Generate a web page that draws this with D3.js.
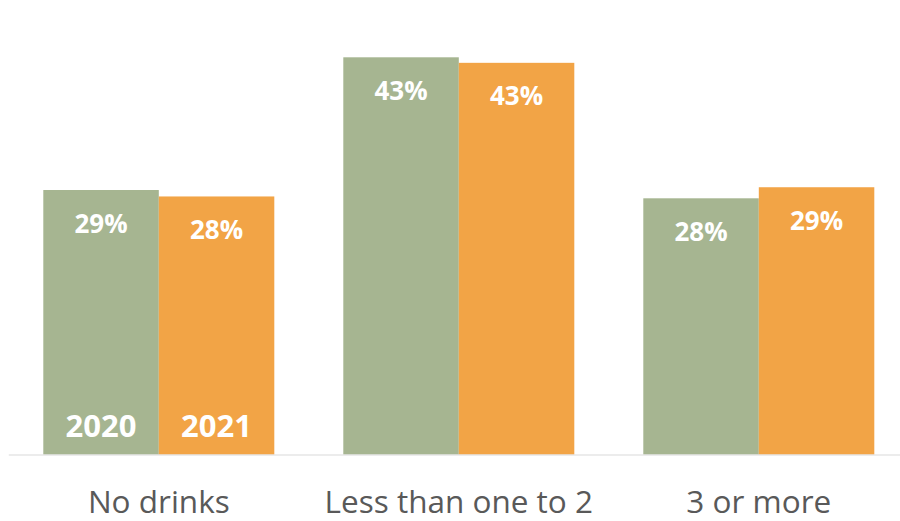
<!DOCTYPE html>
<html>
<head>
<meta charset="utf-8">
<title>Drinks per week</title>
<script src="https://cdnjs.cloudflare.com/ajax/libs/d3/7.8.5/d3.min.js"></script>
<style>
    body { margin: 0; background: #fff; }
    text { font-family: "Open Sans", sans-serif; }
</style>
</head>
<body>
<div id="chart"></div>
<script>
    // values (percent)
    var categories = ["No drinks", "Less than one to 2", "3 or more"];
    var years = ["2020", "2021"];
    var values2020 = [28.7, 43.1, 27.8];
    var values2021 = [28.0, 42.5, 29.0];
    var colors = ["#a6b591", "#f2a446"];

    var width = 900,
        height = 521,
        baseline = 454.5;

    var rows = categories.map(function(c, i) {
        return { cat: c, vals: [values2020[i], values2021[i]] };
    });

    var x0 = d3.scaleBand()
        .domain(categories)
        .range([8.8, 908.8])
        .paddingInner(0.23)
        .paddingOuter(0.115);

    var x1 = d3.scaleBand()
        .domain(years)
        .range([0, x0.bandwidth()]);

    var y = d3.scaleLinear()
        .domain([0, 43.1])
        .range([baseline, 57.3]);

    var svg = d3.select("#chart").append("svg")
        .attr("width", width)
        .attr("height", height);

    var group = svg.selectAll("g.cat")
        .data(rows)
        .enter().append("g")
        .attr("class", "cat")
        .attr("transform", function(d) { return "translate(" + x0(d.cat) + ",0)"; });

    var bars = group.selectAll("g.bar")
        .data(function(d) {
            return d.vals.map(function(v, j) { return { year: years[j], v: v, j: j }; });
        })
        .enter().append("g")
        .attr("class", "bar");

    bars.append("rect")
        .attr("x", function(d) { return x1(d.year); })
        .attr("y", function(d) { return y(d.v); })
        .attr("width", x1.bandwidth())
        .attr("height", function(d) { return baseline - y(d.v); })
        .attr("fill", function(d) { return colors[d.j]; });

    // value labels, inside end
    bars.append("text")
        .attr("x", function(d) { return x1(d.year) + x1.bandwidth() / 2; })
        .attr("y", function(d) { return y(d.v) + 42.5; })
        .attr("text-anchor", "middle")
        .attr("fill", "#fff")
        .attr("font-weight", "bold")
        .attr("font-size", 26)
        .text(function(d) { return Math.round(d.v) + "%"; });

    // year labels inside the first group act as the legend
    svg.selectAll("text.year")
        .data(years)
        .enter().append("text")
        .attr("class", "year")
        .attr("x", function(d) { return x0(categories[0]) + x1(d) + x1.bandwidth() / 2; })
        .attr("y", 437)
        .attr("text-anchor", "middle")
        .attr("fill", "#fff")
        .attr("font-weight", "bold")
        .attr("font-size", 31)
        .text(function(d) { return d; });

    // axis
    var axis = svg.append("g")
        .attr("transform", "translate(0," + baseline + ")")
        .call(d3.axisBottom(x0).tickSize(0).tickPadding(0));

    axis.select(".domain")
        .attr("d", "M8.8,0.5H900")
        .attr("stroke", "#d9d9d9")
        .attr("stroke-width", 1.2);

    axis.selectAll(".tick text")
        .attr("y", 58.5)
        .attr("dy", null)
        .attr("fill", "#595959")
        .attr("font-size", 31.5)
        .style("font-family", "'Open Sans', sans-serif");
</script>
</body>
</html>
